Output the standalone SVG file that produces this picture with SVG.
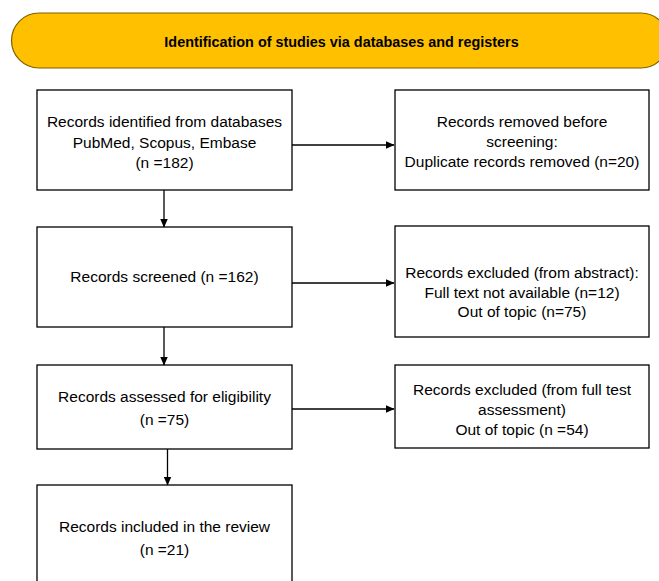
<svg xmlns="http://www.w3.org/2000/svg" width="659" height="581" viewBox="0 0 659 581">
<defs>
<marker id="ah" markerWidth="9" markerHeight="8" refX="8.5" refY="4" orient="auto" markerUnits="userSpaceOnUse">
<path d="M0,0 L9,4 L0,8 Z" fill="#000"/>
</marker>
<style>
.box{fill:#fff;stroke:#000;stroke-width:1.3}
.t{font-family:"Liberation Sans",Arial,sans-serif;font-size:15.5px;fill:#000;text-anchor:middle}
.ban{fill:#FFC000;stroke:#7F6000;stroke-width:1.2}
.bt{font-family:"Liberation Sans",Arial,sans-serif;font-size:14.4px;font-weight:bold;fill:#000;text-anchor:middle}
.c{stroke:#000;stroke-width:1.3;fill:none;marker-end:url(#ah)}
</style>
</defs>
<rect width="659" height="581" fill="#fff"/>
<g id="banner">
<rect class="ban" x="11.5" y="13" width="657" height="55" rx="27.5" ry="27.5"/>
<text class="bt" x="341.5" y="47">Identification of studies via databases and registers</text>
</g>
<g id="identified">
<rect class="box" x="37" y="90" width="255" height="100"/>
<text class="t" x="164.5" y="127">Records identified from databases</text>
<text class="t" x="164.5" y="148">PubMed, Scopus, Embase</text>
<text class="t" x="164.5" y="168">(n =182)</text>
</g>
<g id="removed">
<rect class="box" x="395" y="90" width="254" height="100"/>
<text class="t" x="522" y="127">Records removed before</text>
<text class="t" x="522" y="147">screening:</text>
<text class="t" x="522" y="167">Duplicate records removed (n=20)</text>
</g>
<g id="screened">
<rect class="box" x="37" y="227" width="255" height="100"/>
<text class="t" x="164.5" y="282">Records screened (n =162)</text>
</g>
<g id="excluded1">
<rect class="box" x="395" y="226" width="254" height="111"/>
<text class="t" x="522" y="278">Records excluded (from abstract):</text>
<text class="t" x="522" y="298">Full text not available (n=12)</text>
<text class="t" x="522" y="317">Out of topic (n=75)</text>
</g>
<g id="assessed">
<rect class="box" x="37" y="365" width="255" height="84"/>
<text class="t" x="164.5" y="402">Records assessed for eligibility</text>
<text class="t" x="164.5" y="425">(n =75)</text>
</g>
<g id="excluded2">
<rect class="box" x="395" y="365" width="254" height="83"/>
<text class="t" x="522" y="395">Records excluded (from full test</text>
<text class="t" x="522" y="415">assessment)</text>
<text class="t" x="522" y="435">Out of topic (n =54)</text>
</g>
<g id="included">
<rect class="box" x="37" y="485" width="255" height="110"/>
<text class="t" x="164.5" y="532">Records included in the review</text>
<text class="t" x="164.5" y="555">(n =21)</text>
</g>
<g id="connectors">
<line class="c" x1="292" y1="145" x2="394" y2="145"/>
<line class="c" x1="164" y1="190" x2="164" y2="227"/>
<line class="c" x1="292" y1="283" x2="394" y2="283"/>
<line class="c" x1="164" y1="327" x2="164" y2="365"/>
<line class="c" x1="292" y1="409" x2="394" y2="409"/>
<line class="c" x1="167.5" y1="449" x2="167.5" y2="485"/>
</g>
</svg>
